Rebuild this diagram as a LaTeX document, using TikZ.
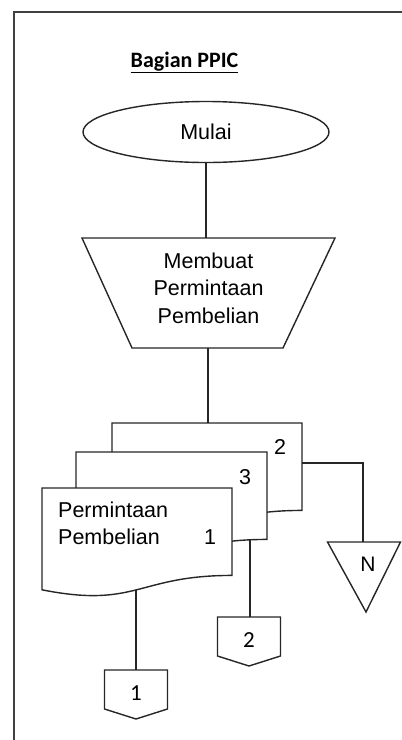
\documentclass[tikz,border=0pt]{standalone}
\usepackage{fontspec}
\setmainfont{Liberation Sans}
\newfontfamily\calibrifont{Carlito}
\usetikzlibrary{shapes.geometric}

\tikzset{
  x=1pt, y=-1pt,
  flowline/.style={draw=black!85, line width=1.5pt},
  shapeline/.style={draw=black!85, line width=1.4pt, fill=white, line join=miter},
  frameline/.style={draw=black!75, line width=1.5pt},
  bodytext/.style={font=\fontsize{21.5}{27.5}\selectfont, inner sep=0pt, text=black},
  pagetext/.style={font=\calibrifont\fontsize{23}{27}\selectfont, inner sep=0pt, text=black},
}

% document symbol: left x, right x, top y, height
\newcommand{\ppicdocsym}[4]{%
  \path[shapeline] (#1,#3) -- (#2,#3) -- (#2,{#3+0.802*#4})
    .. controls ({(#1+#2)/2},{#3+0.802*#4}) and ({(#1+#2)/2},{#3+1.107*#4}) ..
    (#1,{#3+0.934*#4}) -- cycle;}

% off-page connector: centre x, top y
\newcommand{\ppicoffpage}[2]{%
  \path[shapeline] ({#1-31.5},#2) -- ({#1+31.5},#2) -- ({#1+31.5},{#2+39})
    -- (#1,{#2+49}) -- ({#1-31.5},{#2+39}) -- cycle;}

\begin{document}
\begin{tikzpicture}
\useasboundingbox (0,0) rectangle (402,740);

% page frame
\draw[frameline] (14,740) -- (14,12) -- (402,12);

% heading
\node[font=\calibrifont\bfseries\fontsize{22}{26}\selectfont, inner sep=0pt, anchor=base] (title) at (184.5,67)
  {\underline{Bagian PPIC}};

% start terminator
\node[ellipse, draw=black!85, line width=1.4pt, minimum width=246pt, minimum height=61pt,
      outer sep=0pt, bodytext] (start) at (206,132) {Mulai};

% manual operation
\path[shapeline] (82,238) -- (335,238) -- (283,348) -- (132,348) -- cycle;
\coordinate (opTop) at (206,238);
\coordinate (opBot) at (208,348);
\node[bodytext, align=center] (op) at (208.5,288) {Membuat\\Permintaan\\Pembelian};

% document copies, back to front
\coordinate (docTop) at (208,423);
\ppicdocsym{112}{302}{423}{109}
\node[bodytext] (c2) at (280,447) {2};
\coordinate (docTwoSide) at (302,463);

\ppicdocsym{76}{267}{452}{109}
\node[bodytext] (c3) at (245,477) {3};
\coordinate (docThreeBot) at (250,540);

\ppicdocsym{42}{232}{488}{109}
\node[bodytext, anchor=west, align=left] (doc) at (58,523.5) {Permintaan\\Pembelian};
\node[bodytext] (c1) at (210,537) {1};
\coordinate (docOneBot) at (136,590);

% off-page connectors
\ppicoffpage{136}{670}
\coordinate (offOne) at (136,670);
\node[pagetext] (o1) at (136,693) {1};

\ppicoffpage{249}{617}
\coordinate (offTwo) at (250,617);
\node[pagetext] (o2) at (249,640) {2};

% archive
\path[shapeline] (327.5,542) -- (400.5,542) -- (366,612) -- cycle;
\coordinate (archTop) at (363,542);
\node[bodytext, font=\fontsize{21}{25}\selectfont] (n) at (368,564.5) {N};

% flow lines
\draw[flowline] (start.south) -- (opTop);
\draw[flowline] (opBot) -- (docTop);
\draw[flowline] (docOneBot) -- (offOne);
\draw[flowline] (docThreeBot) -- (offTwo);
\draw[flowline] (docTwoSide) -| (archTop);
\end{tikzpicture}
\end{document}
